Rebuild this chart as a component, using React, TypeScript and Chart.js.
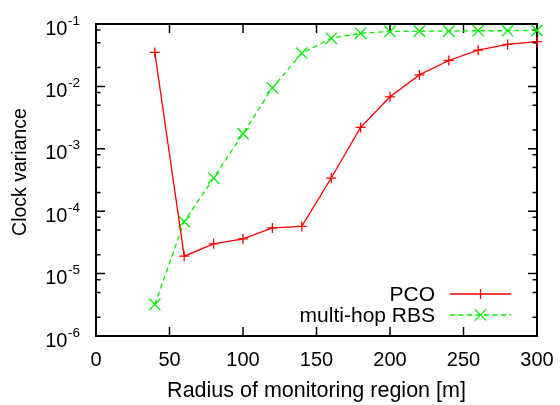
import React, { useEffect, useRef } from "react";
import { Chart, registerables } from "chart.js";

Chart.register(...registerables);

const radius = [40, 60, 80, 100, 120, 140, 160, 180, 200, 220, 240, 260, 280, 300];
const pco = [0.035, 1.9e-5, 3.0e-5, 3.6e-5, 5.4e-5, 5.7e-5, 3.4e-4, 2.2e-3, 6.8e-3, 0.0153, 0.026, 0.038, 0.047, 0.052];
const rbs = [3.2e-6, 6.8e-5, 3.4e-4, 1.75e-3, 9.5e-3, 0.034, 0.059, 0.071, 0.076, 0.077, 0.077, 0.078, 0.078, 0.079];

const xTicks = [0, 50, 100, 150, 200, 250, 300];
const yExponents = [-6, -5, -4, -3, -2, -1];
const minorMultipliers = [2, 5, 8];

const seriesNames = ["PCO", "multi-hop RBS"];
const xTitle = "Radius of monitoring region [m]";
const yTitle = "Clock variance";

const RED = "#ff0000";
const GREEN = "#00ee00";
const FONT = '"Liberation Sans", Arial, Helvetica, sans-serif';

const framePlugin = {
  id: "gnuFrame",
  beforeDatasetsDraw(chart: any) {
    const { ctx, chartArea } = chart;
    const xs = chart.scales.x;
    const ys = chart.scales.y;
    const { left, right, top, bottom } = chartArea;
    ctx.save();
    ctx.strokeStyle = "#000";
    ctx.fillStyle = "#000";
    ctx.lineWidth = 2;
    ctx.strokeRect(left, top, right - left, bottom - top);

    ctx.lineWidth = 1.5;
    // x ticks
    ctx.font = `20px ${FONT}`;
    ctx.textAlign = "center";
    ctx.textBaseline = "alphabetic";
    for (const t of xTicks) {
      const px = xs.getPixelForValue(t);
      ctx.beginPath();
      ctx.moveTo(px, bottom);
      ctx.lineTo(px, bottom - 9);
      ctx.moveTo(px, top);
      ctx.lineTo(px, top + 9);
      ctx.stroke();
      ctx.fillText(String(t), px, bottom + 30);
    }
    // y ticks
    for (const e of yExponents) {
      const v = Math.pow(10, e);
      const py = ys.getPixelForValue(v);
      ctx.beginPath();
      ctx.moveTo(left, py);
      ctx.lineTo(left + 9, py);
      ctx.moveTo(right, py);
      ctx.lineTo(right - 9, py);
      ctx.stroke();
      for (const m of minorMultipliers) {
        const mv = m * v;
        if (mv > 0.1 + 1e-12) continue;
        const my = ys.getPixelForValue(mv);
        ctx.beginPath();
        ctx.moveTo(left, my);
        ctx.lineTo(left + 4.5, my);
        ctx.moveTo(right, my);
        ctx.lineTo(right - 4.5, my);
        ctx.stroke();
      }
      // label 10^e
      const sup = String(e);
      ctx.font = `13.5px ${FONT}`;
      const supW = ctx.measureText(sup).width;
      const labelRight = 80;
      ctx.textAlign = "left";
      ctx.textBaseline = "alphabetic";
      ctx.fillText(sup, labelRight - supW, py + 0.5);
      ctx.font = `20px ${FONT}`;
      ctx.textAlign = "right";
      ctx.fillText("10", labelRight - supW - 0.5, py + 10.5);
    }

    // titles
    ctx.font = `21.5px ${FONT}`;
    ctx.textAlign = "center";
    ctx.textBaseline = "alphabetic";
    ctx.fillText(xTitle, (left + right) / 2, 397);

    ctx.save();
    ctx.translate(26, 172);
    ctx.rotate(-Math.PI / 2);
    ctx.font = `19.5px ${FONT}`;
    ctx.textAlign = "center";
    ctx.textBaseline = "alphabetic";
    ctx.fillText(yTitle, 0, 0);
    ctx.restore();

    ctx.restore();
  },
  afterDatasetsDraw(chart: any) {
    const { ctx } = chart;
    ctx.save();
    const textRight = 435;
    const x0 = 450;
    const x1 = 511;
    const xm = (x0 + x1) / 2;
    const rows = [294, 315];
    ctx.font = `21px ${FONT}`;
    ctx.textAlign = "right";
    ctx.textBaseline = "middle";
    ctx.fillStyle = "#000";
    seriesNames.forEach((name, i) => {
      ctx.fillText(name, textRight, rows[i] + 1);
    });
    // PCO sample
    ctx.lineWidth = 1.3;
    ctx.strokeStyle = RED;
    ctx.beginPath();
    ctx.moveTo(x0, rows[0]);
    ctx.lineTo(x1, rows[0]);
    ctx.moveTo(xm - 5, rows[0]);
    ctx.lineTo(xm + 5, rows[0]);
    ctx.moveTo(xm, rows[0] - 5);
    ctx.lineTo(xm, rows[0] + 5);
    ctx.stroke();
    // RBS sample
    ctx.strokeStyle = GREEN;
    ctx.setLineDash([5, 3.5]);
    ctx.beginPath();
    ctx.moveTo(x0, rows[1]);
    ctx.lineTo(x1, rows[1]);
    ctx.stroke();
    ctx.setLineDash([]);
    const d = 8 * Math.SQRT1_2;
    ctx.beginPath();
    ctx.moveTo(xm - d, rows[1] - d);
    ctx.lineTo(xm + d, rows[1] + d);
    ctx.moveTo(xm - d, rows[1] + d);
    ctx.lineTo(xm + d, rows[1] - d);
    ctx.stroke();
    ctx.restore();
  },
};

export default function App() {
  const canvasRef = useRef<HTMLCanvasElement>(null);

  useEffect(() => {
    const canvas = canvasRef.current;
    if (!canvas) return;
    const chart = new Chart(canvas, {
      type: "line",
      data: {
        datasets: [
          {
            label: seriesNames[0],
            data: radius.map((r, i) => ({ x: r, y: pco[i] })),
            borderColor: RED,
            backgroundColor: RED,
            borderWidth: 1.3,
            pointStyle: "cross",
            pointRadius: 5,
            pointBorderWidth: 1.3,
            pointBorderColor: RED,
            pointHoverRadius: 5,
            tension: 0,
            fill: false,
            clip: false as any,
          },
          {
            label: seriesNames[1],
            data: radius.map((r, i) => ({ x: r, y: rbs[i] })),
            borderColor: GREEN,
            backgroundColor: GREEN,
            borderWidth: 1.3,
            borderDash: [5, 3.5],
            pointStyle: "crossRot",
            pointRadius: 8,
            pointBorderWidth: 1.3,
            pointBorderColor: GREEN,
            pointHoverRadius: 8,
            tension: 0,
            fill: false,
            clip: false as any,
          },
        ],
      },
      options: {
        animation: false,
        responsive: false,
        maintainAspectRatio: false,
        devicePixelRatio: 1,
        events: [],
        layout: { padding: { left: 0, top: 24, right: 23, bottom: 0 } },
        plugins: {
          legend: { display: false },
          tooltip: { enabled: false },
          title: { display: false },
        },
        scales: {
          x: {
            type: "linear",
            min: 0,
            max: 300,
            grid: { display: false },
            border: { display: false },
            ticks: { display: false },
            afterFit: (s: any) => {
              s.height = 69;
            },
          },
          y: {
            type: "logarithmic",
            min: 1e-6,
            max: 1e-1,
            grid: { display: false },
            border: { display: false },
            ticks: { display: false },
            afterFit: (s: any) => {
              s.width = 96;
            },
          },
        },
      },
      plugins: [framePlugin],
    });
    return () => chart.destroy();
  }, []);

  return (
    <div style={{ position: "absolute", left: 0, top: 0, width: 560, height: 405, background: "#fff" }}>
      <canvas ref={canvasRef} width={560} height={405} style={{ display: "block", width: 560, height: 405 }} />
    </div>
  );
}
